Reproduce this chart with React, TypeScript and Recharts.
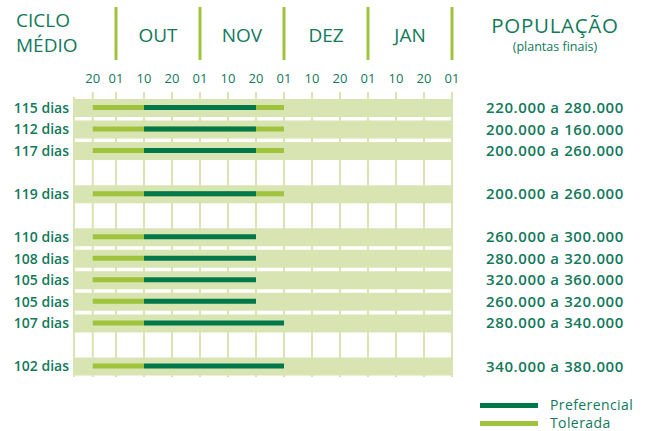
import React from 'react';
import { BarChart, Bar, XAxis, YAxis, CartesianGrid, Legend } from 'recharts';

const VERDE = '#00784a';
const VERDE_CLARO = '#9fc33c';
const FAIXA = '#d8e4b1';
const TEXTO = '#12795a';
const FONTE = '"Open Sans", sans-serif';

// eixo de datas em decêndios (20/09 fica um pouco mais perto de 01/10 no original)
const datas = ['20', '01', '10', '20', '01', '10', '20', '01', '10', '20', '01', '10', '20', '01'];
const posDatas = [0.17, 1, 2, 3, 4, 5, 6, 7, 8, 9, 10, 11, 12, 13];
const meses = ['OUT', 'NOV', 'DEZ', 'JAN'];
const posMeses = [2.5, 5.5, 8.5, 11.5];
const X_MIN = -0.5;
const X_MAX = 13;

// linhas vazias ('') separam os grupos
const ciclos = ['115 dias', '112 dias', '117 dias', '', '119 dias', '', '110 dias', '108 dias', '105 dias', '105 dias', '107 dias', '', '102 dias'];
// índices em "datas"
const toleradaIni = [0, 0, 0, null, 0, null, 0, 0, 0, 0, 0, null, 0];
const toleradaFim = [7, 7, 7, null, 7, null, 2, 2, 2, 2, 2, null, 2];
const preferencialIni = [2, 2, 2, null, 2, null, 2, 2, 2, 2, 2, null, 2];
const preferencialFim = [6, 6, 6, null, 6, null, 6, 6, 6, 6, 7, null, 7];
const populacao = [
  '220.000 a 280.000', '200.000 a 160.000', '200.000 a 260.000', '', '200.000 a 260.000', '',
  '260.000 a 300.000', '280.000 a 320.000', '320.000 a 360.000', '260.000 a 320.000', '280.000 a 340.000', '',
  '340.000 a 380.000',
];

const faixaDe = (ini: number | null, fim: number | null) =>
  ini === null || fim === null ? null : [posDatas[ini], posDatas[fim]];

const dados = ciclos.map((ciclo, i) => ({
  ciclo,
  populacao: populacao[i],
  fundo: ciclo ? [X_MIN, X_MAX] : null,
  tolerada: faixaDe(toleradaIni[i], toleradaFim[i]),
  preferencial: faixaDe(preferencialIni[i], preferencialFim[i]),
}));

// rótulo de data; no dia 01 desenha também a divisa do mês lá em cima
const TickData = ({ x, y, index }: any) => {
  const label = datas[index];
  return (
    <g>
      {label === '01' && (
        <line x1={x} x2={x} y1={y - 76} y2={y - 23} stroke={VERDE_CLARO} strokeWidth={3} />
      )}
      <text x={x} y={y} textAnchor="middle" fill={TEXTO} fontSize={13}>
        {label}
      </text>
    </g>
  );
};

const LegendaConteudo = ({ payload }: any) => (
  <div>
    {(payload || [])
      .filter((item: any) => item.type !== 'none')
      .map((item: any) => (
        <div key={item.value} style={{ display: 'flex', alignItems: 'center', height: 18 }}>
          <span style={{ display: 'inline-block', width: 58, height: 5, background: item.color, marginRight: 12 }} />
          <span style={{ color: TEXTO, fontSize: 14, lineHeight: '14px', letterSpacing: 0.4 }}>{item.value}</span>
        </div>
      ))}
  </div>
);

export default function App() {
  return (
    <div style={{ position: 'absolute', left: 0, top: 0, width: 650, height: 431, fontFamily: FONTE, background: '#fff' }}>
      <BarChart
        width={650}
        height={431}
        data={dados}
        layout="vertical"
        margin={{ top: 7, right: 0, bottom: 54, left: 0 }}
      >
        <CartesianGrid xAxisId="data" yAxisId="ciclo" horizontal={false} stroke={FAIXA} strokeWidth={2} />
        <XAxis
          xAxisId="data"
          type="number"
          orientation="top"
          domain={[X_MIN, X_MAX]}
          ticks={posDatas}
          interval={0}
          allowDataOverflow
          height={37}
          tickSize={5}
          tickMargin={9}
          axisLine={false}
          tickLine={{ stroke: FAIXA, strokeWidth: 2 }}
          tick={<TickData />}
        />
        <XAxis
          xAxisId="meses"
          type="number"
          orientation="top"
          domain={[X_MIN, X_MAX]}
          ticks={posMeses}
          interval={0}
          allowDataOverflow
          height={53}
          tickSize={0}
          tickMargin={18}
          axisLine={false}
          tickLine={false}
          tickFormatter={(_v: number, i: number) => meses[i]}
          tick={{ fill: TEXTO, fontSize: 19 }}
        />
        <YAxis
          yAxisId="ciclo"
          type="category"
          dataKey="ciclo"
          width={74}
          tickSize={0}
          tickMargin={5}
          axisLine={false}
          tickLine={false}
          interval={0}
          tick={{ fill: TEXTO, fontSize: 14, fontWeight: 600 }}
        />
        <YAxis
          yAxisId="pop"
          type="category"
          dataKey="populacao"
          orientation="right"
          width={198}
          tickSize={0}
          tickMargin={103}
          axisLine={false}
          tickLine={false}
          interval={0}
          tick={{ fill: TEXTO, fontSize: 15, fontWeight: 600, textAnchor: 'middle', letterSpacing: 0.6 }}
        />
        <YAxis yAxisId="pref" type="category" dataKey="ciclo" hide />
        <Bar xAxisId="data" yAxisId="ciclo" dataKey="fundo" fill={FAIXA} barSize={18} legendType="none" isAnimationActive={false} />
        <Bar xAxisId="data" yAxisId="pop" dataKey="tolerada" name="Tolerada" fill={VERDE_CLARO} barSize={5} isAnimationActive={false} />
        <Bar xAxisId="data" yAxisId="pref" dataKey="preferencial" name="Preferencial" fill={VERDE} barSize={5} isAnimationActive={false} />
        <Legend
          layout="vertical"
          verticalAlign="middle"
          align="center"
          content={<LegendaConteudo />}
          wrapperStyle={{ left: 480, top: 396, width: 170, height: 34 }}
        />
      </BarChart>
      <div style={{ position: 'absolute', left: 16, top: 8, fontSize: 19, lineHeight: '25px', color: TEXTO }}>
        CICLO
        <br />
        MÉDIO
      </div>
      <div style={{ position: 'absolute', left: 455, top: 14, width: 200, textAlign: 'center', color: TEXTO }}>
        <div style={{ fontSize: 20.5, lineHeight: '22px', letterSpacing: 0.7 }}>POPULAÇÃO</div>
        <div style={{ fontSize: 12.5, lineHeight: '14px', marginTop: 4 }}>(plantas finais)</div>
      </div>
    </div>
  );
}
